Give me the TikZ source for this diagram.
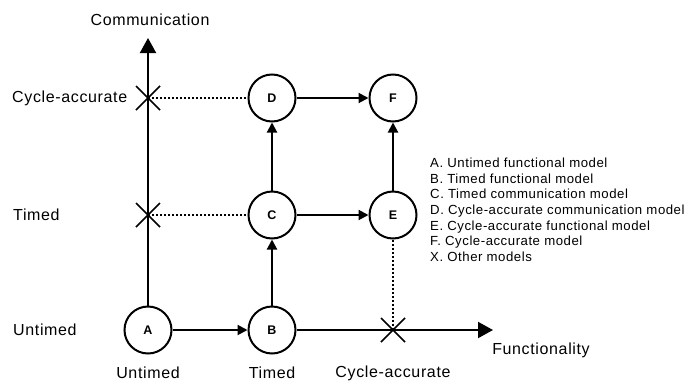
\documentclass[tikz,border=0pt]{standalone}
\usepackage{fontspec}
\setmainfont{Liberation Sans}[LetterSpace=4]
\usetikzlibrary{arrows.meta}
\begin{document}
\begin{tikzpicture}[x=1pt,y=-1pt,
  model/.style={circle,draw,line width=2pt,minimum size=47pt,inner sep=0pt,font=\fontsize{12.5}{14}\selectfont\bfseries},
  edge/.style={line width=2pt,-{Triangle[length=10pt,width=10pt]}},
  axis/.style={line width=2pt,-{Triangle[length=15pt,width=16pt]}},
  link/.style={line width=2pt,dash pattern=on 2pt off 2pt},
  cross/.style={line width=1.6pt},
  lbl/.style={font=\fontsize{16}{18}\selectfont,inner sep=0pt},
  legend/.style={font=\fontsize{13.2}{15}\selectfont,inner sep=0pt,anchor=base west}]
\useasboundingbox (0,0) rectangle (695,383);

% models
\node[model] (A) at (148,330) {A};
\node[model] (B) at (272,330) {B};
\node[model] (C) at (272,215) {C};
\node[model] (D) at (272,98) {D};
\node[model] (E) at (393,215) {E};
\node[model] (F) at (393,98) {F};

% axis ends and "other model" points
\coordinate (ctop) at (148,38);
\coordinate (fend) at (493,330);
\coordinate (xd) at (148,98);
\coordinate (xc) at (148,215);
\coordinate (xe) at (393,330);

% axes
\draw[axis] (A.north) -- (ctop);
\draw[axis] (B.east) -- (fend);

% transitions
\draw[edge] (A) -- (B);
\draw[edge] (B) -- (C);
\draw[edge] (C) -- (D);
\draw[edge] (C) -- (E);
\draw[edge] (D) -- (F);
\draw[edge] (E) -- (F);

% other models
\draw[link] (xd) -- (D.west);
\draw[link] (xc) -- (C.west);
\draw[link] (E.south) -- (xe);
\foreach \p in {xd,xc,xe}
  \draw[cross] ([shift={(-12,-12)}]\p) -- ([shift={(12,12)}]\p)
               ([shift={(-12,12)}]\p) -- ([shift={(12,-12)}]\p);

% axis labels
\node[lbl] (comm) at (150,20) {Communication};
\node[lbl] (func) at (541,350) {Functionality};
\node[lbl,anchor=west] (lca) at (12,98) {Cycle-accurate};
\node[lbl,anchor=west] (lt) at (13,215) {Timed};
\node[lbl,anchor=west] (lu) at (13,330) {Untimed};
\node[lbl] (bu) at (148,373) {Untimed};
\node[lbl] (bt) at (272,373) {Timed};
\node[lbl] (bc) at (393,373) {Cycle-accurate};

% legend
\foreach \t [count=\i from 0] in {A. Untimed functional model,B. Timed functional model,C. Timed communication model,D. Cycle-accurate communication model,E. Cycle-accurate functional model,F. Cycle-accurate model,X. Other models}
  \node[legend] (leg\i) at (430,167.5+15.67*\i) {\t};
\end{tikzpicture}
\end{document}
